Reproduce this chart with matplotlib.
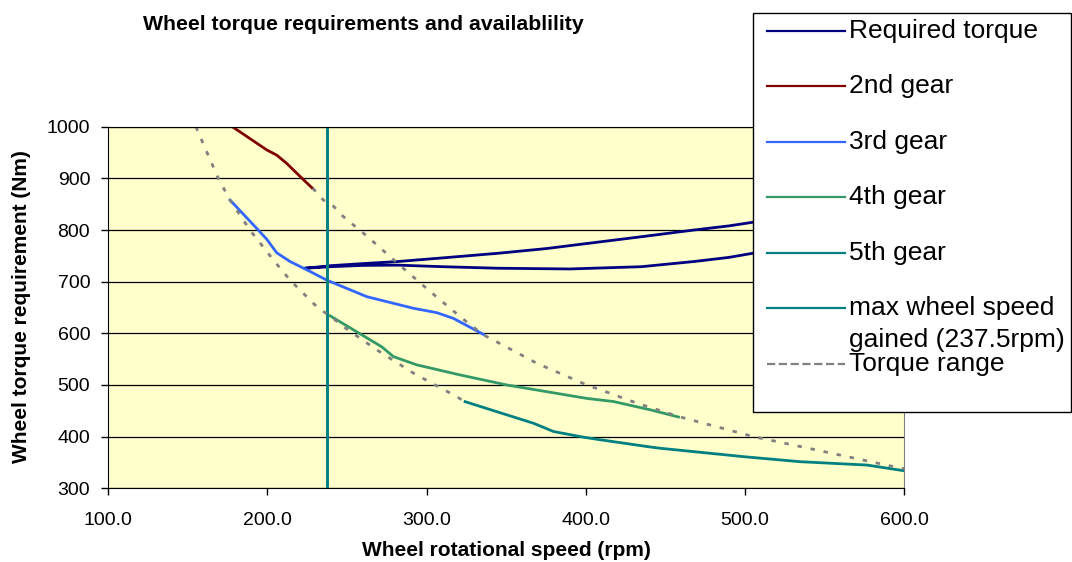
import matplotlib
matplotlib.use("Agg")
import matplotlib.pyplot as plt
from matplotlib.lines import Line2D
from matplotlib.patches import Rectangle

plt.rcParams["font.family"] = ["Liberation Sans", "DejaVu Sans"]

W, H = 1072, 562

# --- data --------------------------------------------------------------
# required torque: one series that runs out along the upper branch and back along the lower one
req_upper_rpm = [223.7, 240, 260, 282, 310, 345, 375, 401, 435, 468, 490, 505, 515]
req_upper_nm = [726, 731, 735, 739, 746, 755, 764, 774, 787, 800, 808, 815, 820]
req_lower_rpm = [515, 505, 490, 468, 435, 390, 345, 310, 282, 260, 240, 223.7]
req_lower_nm = [761, 755, 747, 739, 729, 724.6, 726, 729, 732, 731.5, 729, 726]
required_rpm = req_upper_rpm + req_lower_rpm
required_nm = req_upper_nm + req_lower_nm

gear2_rpm = [176.5, 189, 199.6, 205.8, 212.1, 218.4, 228.2]
gear2_nm = [1003, 977, 955, 945, 929, 910, 881]

gear3_rpm = [176.5, 193.3, 199.6, 205.8, 214.2, 224.7, 237.3, 262.4, 291.7, 306.4, 316.8, 335.7]
gear3_nm = [858, 803, 782, 756, 739, 723, 703, 671, 648.5, 640, 629, 598]

gear4_rpm = [239.3, 256.1, 271.8, 279.1, 293.8, 321, 350.4, 400.7, 417.4, 440.5, 458.3]
gear4_nm = [634, 603, 574, 555, 539, 519.5, 500, 474, 468, 452, 438]

gear5_rpm = [324.2, 367.1, 379.7, 398.5, 409, 440.5, 446.8, 500, 534.7, 576.7, 600]
gear5_nm = [467.7, 426, 410, 399, 394, 380, 377.5, 361, 351.5, 345, 334]

max_speed_rpm = [237.5, 237.5]
max_speed_nm = [300, 1000]

range_low_rpm = [155, 169.1, 176.5, 189, 203.7, 214.2, 232, 239.3, 247.7, 268.7, 291.7, 316.8, 324.2]
range_low_nm = [1000, 900, 858, 800, 742, 703, 648.5, 634, 613, 568, 523, 481, 467.7]
range_high_rpm = [228.5, 235.1, 241.5, 247.7, 261.8, 282, 302.2, 322.4, 335.7, 342, 369.3,
                  400.7, 415.3, 432, 458.3, 505.4, 534.7, 593.4, 600]
range_high_nm = [881, 858, 846, 826, 790, 735, 681, 629, 597, 587, 542,
                 500, 484, 465, 439, 400, 381, 342, 338]

x_ticks = [100, 200, 300, 400, 500, 600]
y_ticks = [300, 400, 500, 600, 700, 800, 900, 1000]

labels = ["Required torque", "2nd gear", "3rd gear", "4th gear", "5th gear",
          "max wheel speed\ngained (237.5rpm)", "Torque range"]


def fx(px):
    return px / W


def fy(py):
    return 1 - py / H


fig = plt.figure(figsize=(W / 100, H / 100), dpi=100)
ax = fig.add_axes([fx(108.3), fy(488.3), fx(904) - fx(108.3), fy(126.7) - fy(488.3)])
ax.set_facecolor("#FFFFCC")

lw = 2.0
l_req, = ax.plot(required_rpm, required_nm, color="#000080", lw=lw)
l_g2, = ax.plot(gear2_rpm, gear2_nm, color="#800000", lw=lw)
l_g3, = ax.plot(gear3_rpm, gear3_nm, color="#3366FF", lw=lw)
l_g4, = ax.plot(gear4_rpm, gear4_nm, color="#339966", lw=lw)
l_g5, = ax.plot(gear5_rpm, gear5_nm, color="#008080", lw=lw)
l_max, = ax.plot(max_speed_rpm, max_speed_nm, color="#008080", lw=2.1)
dash = (0, (1.6, 3.2))
l_rng, = ax.plot(range_low_rpm, range_low_nm, color="#808080", lw=lw, ls=dash)
ax.plot(range_high_rpm, range_high_nm, color="#808080", lw=lw, ls=dash)

ax.set_xlim(100, 600)
ax.set_ylim(300, 1000)
ax.set_xticks(x_ticks)
ax.set_xticklabels([f"{v:.1f}" for v in x_ticks])
ax.set_yticks(y_ticks)
ax.yaxis.grid(True, color="black", lw=0.9)
ax.set_axisbelow(True)
ax.tick_params(axis="both", direction="out", length=5, width=1, labelsize=14)
ax.tick_params(axis="x", pad=12)
ax.tick_params(axis="y", pad=8)
for side in ["left", "bottom", "top"]:
    ax.spines[side].set_color("black")
ax.spines["right"].set_color("#808080")

fig.text(fx(363), fy(25), "Wheel torque requirements and availablility",
         ha="center", va="center", fontsize=15.3, fontweight="bold")
fig.text(fx(506), fy(551), "Wheel rotational speed (rpm)",
         ha="center", va="center", fontsize=15, fontweight="bold")
fig.text(fx(22), fy(307), "Wheel torque requirement (Nm)", rotation=90,
         ha="center", va="center", fontsize=15, fontweight="bold")

# legend box drawn by hand, Excel style (overlaps the plot area)
fig.add_artist(Rectangle((fx(752.5), fy(412)), fx(1071) - fx(752.5), fy(13) - fy(412),
                         transform=fig.transFigure, facecolor="white",
                         edgecolor="black", lw=1, zorder=5))
handles = [l_req, l_g2, l_g3, l_g4, l_g5, l_max, l_rng]
entry_y = [30.7, 86, 141.7, 197.3, 252.7, 308.3, 364]
for h, lab, yy in zip(handles, labels, entry_y):
    fig.add_artist(Line2D([fx(767), fx(845)], [fy(yy), fy(yy)], transform=fig.transFigure,
                          color=h.get_color(), lw=1.6,
                          ls=h.get_linestyle(), zorder=6))
    if "\n" in lab:
        fig.text(fx(849), fy(yy - 12), lab, ha="left", va="top", fontsize=19,
                 linespacing=1.38, zorder=7)
    else:
        fig.text(fx(849), fy(yy), lab, ha="left", va="center", fontsize=19, zorder=7)

fig.savefig("out.png", dpi=100)
